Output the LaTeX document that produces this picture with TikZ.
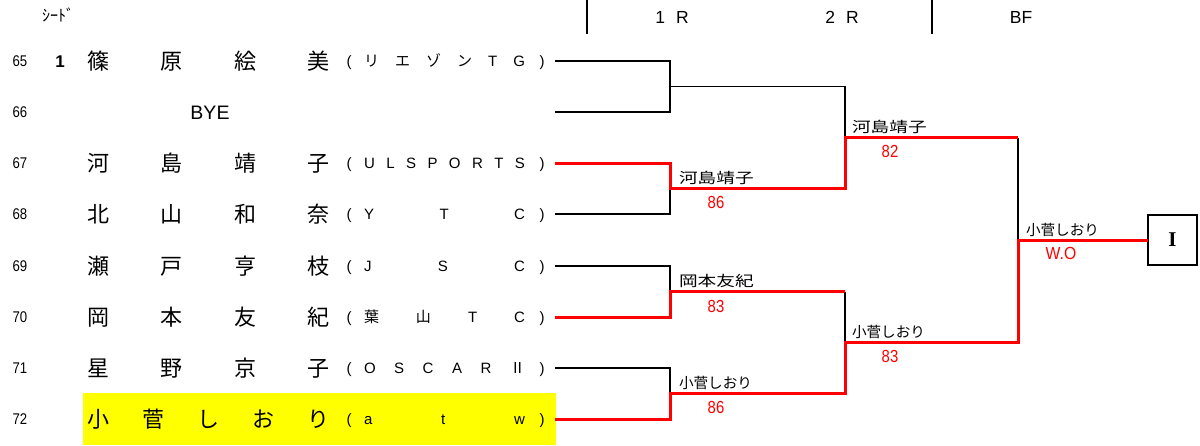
\documentclass[tikz,border=0pt]{standalone}
\usepackage{fontspec}
\usepackage{graphicx}
\setmainfont{Liberation Sans}
\newfontfamily\jpf{Noto Sans CJK JP}
\newfontfamily\serifb{Liberation Serif}
\definecolor{wred}{RGB}{255,0,0}
\definecolor{hlyellow}{RGB}{255,255,0}
\newcommand\prow[4]{%
  \node[rnum] (n#2) at (20,{#1+5.5}) {\scalebox{0.85}[1]{#2}};
  \node[pname] (nm#2) at (208.5,{#1+8}) {\makebox[242pt][s]{#3}};
  \node[pclub] (lp#2) at (349,{#1+5.5}) {(};
  \node[pclub] (cl#2) at (444.5,{#1+5.5}) {\makebox[161pt][s]{#4}};
  \node[pclub] (rp#2) at (542,{#1+5.5}) {)};
}
\begin{document}
\begin{tikzpicture}[x=1pt,y=-1pt,
  every node/.style={inner sep=0pt,outer sep=0pt},
  rnum/.style={anchor=base,font=\fontsize{15.5}{16}\selectfont},
  pname/.style={anchor=base,font=\jpf\fontsize{22}{22}\selectfont},
  pclub/.style={anchor=base,font=\fontsize{15}{15}\selectfont},
  hdr/.style={anchor=base,font=\fontsize{17.5}{18}\selectfont},
  lbl/.style={anchor=base west,font=\jpf\fontsize{14.6}{15}\selectfont},
  score/.style={anchor=center,text=wred,font=\fontsize{17.5}{18}\selectfont},
  bk/.style={line width=1.6pt,black},
  rd/.style={line width=3pt,wred},
  hline/.style={line width=1.6pt,black}]
\useasboundingbox (0,0) rectangle (1200,445);
% header
\node[anchor=base,font=\jpf\fontsize{16}{16}\selectfont] (seedhdr) at (58,21) {ｼｰﾄﾞ};
\coordinate (h1t) at (587,0); \coordinate (h1b) at (587,34);
\coordinate (h2t) at (932,0); \coordinate (h2b) at (932,34);
\draw[hline] (h1t) -- (h1b);
\draw[hline] (h2t) -- (h2b);
\node[hdr] (r1) at (672,23.5) {1\hspace{11pt}R};
\node[hdr] (r2) at (842,23.5) {2\hspace{11pt}R};
\node[hdr] (bf) at (1021,23.5) {BF};
% highlight
\fill[hlyellow] (83,393) rectangle (556,445);
% players
\prow{61}{65}{篠\hfill 原\hfill 絵\hfill 美}{{\jpf リ}\hfill {\jpf エ}\hfill {\jpf ゾ}\hfill {\jpf ン}\hfill T\hfill G}
\node[anchor=base,font=\bfseries\fontsize{17}{17}\selectfont] (seed65) at (60,67) {1};
\node[rnum] (n66) at (20,117.5) {\scalebox{0.85}[1]{66}};
\node[anchor=base,font=\fontsize{19.5}{20}\selectfont] (bye) at (210,119) {BYE};
\prow{163}{67}{河\hfill 島\hfill 靖\hfill 子}{U\hfill L\hfill S\hfill P\hfill O\hfill R\hfill T\hfill S}
\prow{214}{68}{北\hfill 山\hfill 和\hfill 奈}{Y\hfill T\hfill C}
\prow{266}{69}{瀬\hfill 戸\hfill 亨\hfill 枝}{J\hfill S\hfill C}
\prow{317}{70}{岡\hfill 本\hfill 友\hfill 紀}{{\jpf 葉}\hfill {\jpf 山}\hfill T\hfill C}
\prow{368}{71}{星\hfill 野\hfill 京\hfill 子}{O\hfill S\hfill C\hfill A\hfill R\hfill {\jpf Ⅱ}}
\prow{419}{72}{小\hfill 菅\hfill し\hfill お\hfill り}{a\hfill t\hfill w}
% bracket coordinates
\foreach \r/\y in {65/61,66/112,67/163,68/214,69/266,70/317,71/368,72/419}{
  \coordinate (a\r) at (555,\y);
  \coordinate (b\r) at (670,\y);
}
\coordinate (m1) at (670,86.5);  \coordinate (c1) at (845,86.5);
\coordinate (m2) at (670,188.5); \coordinate (c2) at (845,188.5);
\coordinate (m3) at (670,291.5); \coordinate (c3) at (845,291.5);
\coordinate (m4) at (670,393.5); \coordinate (c4) at (845,393.5);
\coordinate (q1) at (845,137.5); \coordinate (d1) at (1018,137.5);
\coordinate (q2) at (845,342.5); \coordinate (d2) at (1018,342.5);
\coordinate (f) at (1018,240);
\node[draw,line width=1.6pt,minimum width=49pt,minimum height=50pt] (champ) at (1172.5,240) {};
\node[anchor=center,font=\serifb\bfseries\fontsize{21}{21}\selectfont] (champtxt) at (champ.center) {I};
% black lines
\draw[bk] (a65) -- (b65) -- (b66) -- (a66);
\draw[bk] (m1) -- (c1) -- (q1);
\draw[bk] (a68) -- (b68) -- (m2);
\draw[bk] (a69) -- (b69) -- (m3);
\draw[bk] (a71) -- (b71) -- (m4);
\draw[bk] (c3) -- (q2);
\draw[bk] (d1) -- (f);
% red lines
\draw[rd] (a67) -- (b67) -- (m2) -- (c2) -- (q1) -- (d1);
\draw[rd] (a70) -- (b70) -- (m3) -- (c3);
\draw[rd] (a72) -- (b72) -- (m4) -- (c4) -- (q2) -- (d2) -- (f) -- (champ.west);
% winner labels
\node[lbl] (w1) at (679,183.5) {\scalebox{1.28}[1]{河島靖子}};
\node[lbl] (w2) at (679,286.5) {\scalebox{1.28}[1]{岡本友紀}};
\node[lbl] (w3) at (679,388.5) {小菅しおり};
\node[lbl] (w4) at (852,132.5) {\scalebox{1.28}[1]{河島靖子}};
\node[lbl] (w5) at (852,337.5) {小菅しおり};
\node[lbl] (w6) at (1026,235) {小菅しおり};
% scores
\node[score] (s1) at (716,202) {\scalebox{0.85}[1]{86}};
\node[score] (s2) at (716,306) {\scalebox{0.85}[1]{83}};
\node[score] (s3) at (716,407) {\scalebox{0.85}[1]{86}};
\node[score] (s4) at (890,151) {\scalebox{0.85}[1]{82}};
\node[score] (s5) at (890,356) {\scalebox{0.85}[1]{83}};
\node[score] (s6) at (1061,253) {\scalebox{0.9}[1]{W.O}};
\end{tikzpicture}
\end{document}
